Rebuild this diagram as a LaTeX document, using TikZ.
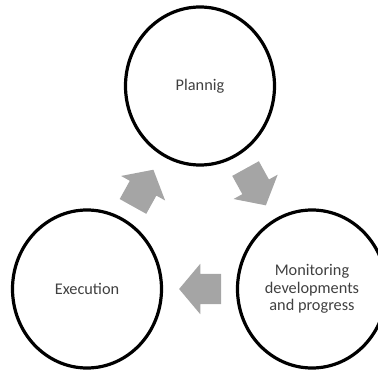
\documentclass[tikz,border=0pt]{standalone}
\usepackage{fontspec}
\setmainfont{Carlito}
\usepackage{tikz}
\usetikzlibrary{shapes.geometric,shapes.arrows}
\definecolor{Cycle}{RGB}{165,165,165}
\definecolor{Ink}{RGB}{64,64,64}

\begin{document}
\begin{tikzpicture}[x=1bp,y=1bp,
  stage/.style={draw=black,line width=3.2bp,ellipse,minimum width=149bp,minimum height=158bp,
    inner sep=0pt,font=\fontsize{16.3bp}{17.5bp}\selectfont,text=Ink,align=center},
  flow/.style={single arrow,fill=Cycle,draw=none,minimum height=42bp,
    single arrow head extend=10bp,single arrow tip angle=100,inner xsep=0pt,inner ysep=15bp,
    sloped,allow upside down,pos=0.404}]
\useasboundingbox (0,0) rectangle (378,372);
\node[stage] (plan) at (200,286) {Plannig};
\node[stage] (exec) at (87,83) {Execution};
\node[stage] (monit) at (312,83) {Monitoring\\developments\\and progress};
% block arrows half way between the stages
\path (exec) -- (plan) node[flow] {};
\path (plan) -- (monit) node[flow] {};
\path (monit) -- (exec) node[flow] {};
\end{tikzpicture}
\end{document}
